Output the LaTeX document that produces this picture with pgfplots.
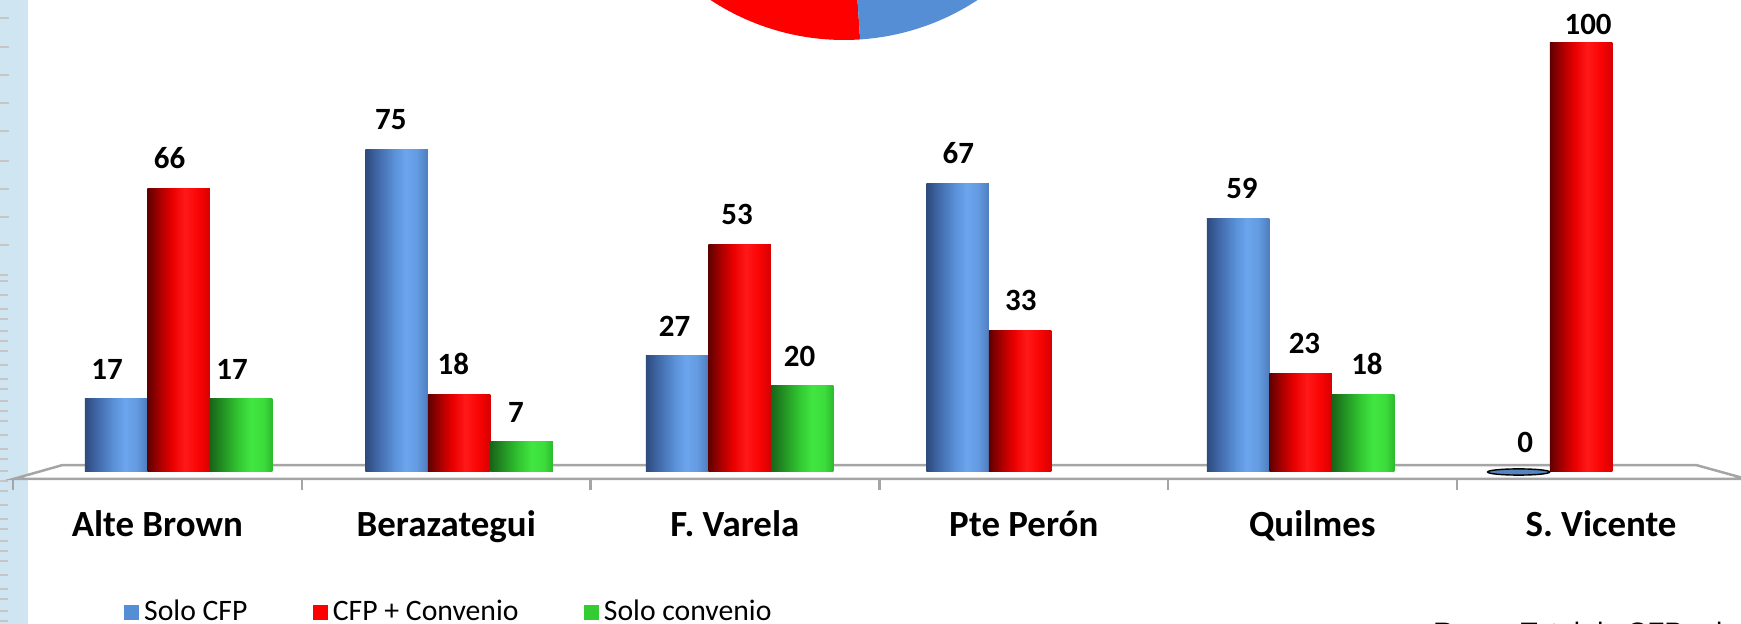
\documentclass[border=0pt]{standalone}
\usepackage{fontspec}
\setmainfont{Carlito}
\newfontfamily\arialfont{Liberation Sans}
\usepackage{pgfplots}
\usepackage{pgfplotstable}
\pgfplotsset{compat=1.18}

\definecolor{cfpblue}{RGB}{85,142,213}
\definecolor{cfpred}{RGB}{255,0,0}
\definecolor{cfpgreen}{RGB}{51,204,51}
\definecolor{stripblue}{RGB}{207,229,241}
\definecolor{floorgray}{RGB}{165,165,165}
% cylinder tones, left to right
\definecolor{b1}{RGB}{45,75,125}\definecolor{b2}{RGB}{65,105,170}\definecolor{b3}{RGB}{90,145,215}
\definecolor{b4}{RGB}{108,165,238}\definecolor{b5}{RGB}{100,155,225}\definecolor{b6}{RGB}{78,125,190}
\definecolor{r1}{RGB}{95,0,0}\definecolor{r2}{RGB}{170,0,0}\definecolor{r3}{RGB}{235,0,0}
\definecolor{r4}{RGB}{255,25,25}\definecolor{r5}{RGB}{250,5,5}\definecolor{r6}{RGB}{215,0,0}
\definecolor{g1}{RGB}{25,100,25}\definecolor{g2}{RGB}{35,145,35}\definecolor{g3}{RGB}{50,200,50}
\definecolor{g4}{RGB}{65,230,65}\definecolor{g5}{RGB}{60,220,60}\definecolor{g6}{RGB}{45,185,45}
\pgfdeclarehorizontalshading{bluecyl}{100bp}{color(0bp)=(b1); color(25bp)=(b1); color(35bp)=(b2);
  color(48bp)=(b3); color(57bp)=(b4); color(66bp)=(b5); color(75bp)=(b6); color(100bp)=(b6)}
\pgfdeclarehorizontalshading{redcyl}{100bp}{color(0bp)=(r1); color(25bp)=(r1); color(35bp)=(r2);
  color(45bp)=(r3); color(55bp)=(r4); color(65bp)=(r5); color(75bp)=(r6); color(100bp)=(r6)}
\pgfdeclarehorizontalshading{greencyl}{100bp}{color(0bp)=(g1); color(25bp)=(g1); color(35bp)=(g2);
  color(48bp)=(g3); color(58bp)=(g4); color(68bp)=(g5); color(75bp)=(g6); color(100bp)=(g6)}

% one bar per \addplot, so that each cylinder gets its own shading
\pgfplotsset{cyl/.style={ybar, bar width=0.2228, draw=none, shade, shading=#1,
  nodes near coords, forget plot}}

\pgfplotstableread{
x y
0 17
1 75
2 27
3 67
4 59
5 0
}\solocfp
\pgfplotstableread{
x y
0 66
1 18
2 53
3 33
4 23
5 100
}\cfpconv
\pgfplotstableread{
x y
0 17
1 7
2 20
4 18
}\soloconv

\begin{document}
\begin{tikzpicture}[x=1mm,y=1mm]
% ruler strip at the left edge
\fill[stripblue] (0,-14.5) rectangle (2.8,47.9);
\foreach \py in {18,47,75,103,131,161,189,217,245}
  \draw[gray!45, line width=0.2mm] (0,{(479-\py)*0.1}) -- ++(0.9,0);
\foreach \py in {275,281,295,309,319,331,341,351,365,379,389,401,411,421,435,449,459,471,481,491,505,519,529,541,551,561,575,589,599,611,621}
  \draw[gray!45, line width=0.2mm] (0,{(479-\py)*0.1}) -- ++(0.8,0);

\begin{axis}[at={(0,0)}, anchor=south west, scale only axis,
  width=174.1mm, height=47.9mm,
  xmin=-0.637, xmax=5.570, ymin=-1.628, ymax=109.77,
  axis line style={draw=none}, ytick=\empty, major tick length=0pt,
  xtick={-0.076,0.954,1.983,3.013,4.042,5.071},
  xticklabels={Alte Brown,Berazategui,F. Varela,Pte Perón,Quilmes,S. Vicente},
  xticklabel style={font=\fontsize{10.5}{12}\selectfont\bfseries, anchor=base,
    inner sep=0pt, yshift=-5.8mm},
  /pgf/number format/assume math mode=true,
  nodes near coords style={font=\fontsize{8.8}{10}\selectfont\bfseries, anchor=south,
    inner sep=0pt, yshift=1.9mm, text=black},
  clip=false,
  legend columns=3,
  legend style={at={(0.0707,-0.279)}, anchor=west, draw=none, fill=none,
    inner sep=0pt, font=\fontsize{8.45}{10}\selectfont,
    nodes={inner sep=0.5mm},
    /tikz/every even column/.append style={column sep=6.0mm}},
  ]
% floor
\draw[floorgray, line width=0.25mm, fill=white] (axis cs:-0.590,-1.628) -- (axis cs:-0.415,1.6)
  -- (axis cs:5.411,1.6) -- (axis cs:5.59,-1.628) -- cycle;
\pgfplotsinvokeforeach{-0.590,0.439,1.469,2.498,3.527,4.557}{
  \draw[floorgray, line width=0.25mm] (axis cs:#1,-1.628) -- (axis cs:#1,-4.19);}

% Solo CFP
\pgfplotsinvokeforeach{0,1,2,3,4}{
  \addplot[cyl=bluecyl, bar shift=-0.2228, restrict x to domain=#1:#1,
    nodes near coords style={xshift={-6.25mm+(-0.9+0.32*#1)*1mm}}] table {\solocfp};}
\addplot[ybar, bar width=0.2228, bar shift=-0.2228, draw=none, fill=none, forget plot,
  restrict x to domain=5:5, nodes near coords, nodes near coords style={xshift=-5.6mm}]
  table {\solocfp};
\addplot[forget plot, only marks, draw=none, mark=*, mark size=3.1mm,
  mark options={draw=none, fill=b5!85!black, xshift=-6.25mm, yscale=0.1},
  restrict x to domain=5:5] table {\solocfp};
% CFP + Convenio
\pgfplotsinvokeforeach{0,1,2,3,4}{
  \addplot[cyl=redcyl, bar shift=0, restrict x to domain=#1:#1,
    nodes near coords style={xshift={(-0.9+0.32*#1)*1mm}}] table {\cfpconv};}
\addplot[cyl=redcyl, bar shift=0, restrict x to domain=5:5,
  nodes near coords style={yshift=-1.2mm, xshift=0.7mm}] table {\cfpconv};
% Solo convenio
\pgfplotsinvokeforeach{0,1,2,4}{
  \addplot[cyl=greencyl, bar shift=0.2228, restrict x to domain=#1:#1,
    nodes near coords style={xshift={6.25mm+(-0.9+0.32*#1)*1mm}}] table {\soloconv};}

\addlegendimage{legend image code/.code={\fill[cfpblue] (0,-0.7mm) rectangle (1.4mm,0.7mm);}}
\addlegendentry{Solo CFP}
\addlegendimage{legend image code/.code={\fill[cfpred] (0,-0.7mm) rectangle (1.4mm,0.7mm);}}
\addlegendentry{CFP + Convenio}
\addlegendimage{legend image code/.code={\fill[cfpgreen] (0,-0.7mm) rectangle (1.4mm,0.7mm);}}
\addlegendentry{Solo convenio}
\end{axis}

% fragment of the pie chart above
\fill[cfpred] (84.4,68.2) -- ++(-86.2:24.3) arc[start angle=-86.2, end angle=-180, radius=24.3] -- cycle;
\fill[cfpblue] (84.4,68.2) -- ++(-86.2:24.3) arc[start angle=-86.2, end angle=0, radius=24.3] -- cycle;

\node[anchor=base west, inner sep=0pt, font=\arialfont\fontsize{8}{10}\selectfont]
  at (143.3,-16.4) {\textbf{Base:} Total de CFP relevados};

\pgfresetboundingbox
\path[use as bounding box] (0,-14.5) rectangle (174.1,47.9);
\end{tikzpicture}
\end{document}
